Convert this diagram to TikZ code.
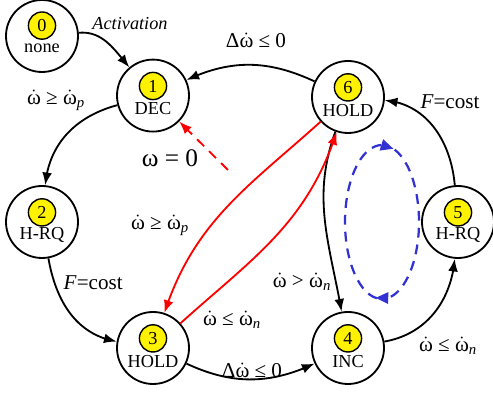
\documentclass[tikz,border=0pt]{standalone}
\usepackage{amsmath}
\usepackage{fontspec}
\setmainfont{Liberation Serif}
\usetikzlibrary{arrows.meta,positioning,bending}
\newcommand{\wdt}{\dot{\text{ω}}}

\begin{document}
\begin{tikzpicture}[
  font=\fontsize{13}{15}\selectfont,
  state/.style={circle, draw=black, line width=1.3pt, fill=white,
    minimum size=1.8cm, inner sep=0pt},
  num/.style={circle, draw=black, line width=1pt, fill=yellow,
    minimum size=0.68cm, inner sep=0pt},
  txt/.style={inner sep=0pt},
  lbl/.style={font=\fontsize{15}{18}\selectfont},
  arr/.style={-{Latex[length=9pt,width=7pt]}, line width=1.3pt},
  redarr/.style={arr, red},
  loop/.style={-{Triangle[length=9pt,width=8pt,flex]}, line width=1.6pt,
    draw={rgb,255:red,50;green,50;blue,210}, dash pattern=on 7pt off 5pt}
]
\useasboundingbox (0,0) rectangle (12.325,10);

% states
\node[state] (s0) at (1.05,9.1) {};
\node[num] (n0) at ([yshift=0.26cm]s0.center) {0};
\node[txt] (t0) at ([yshift=-0.3cm]s0.center) {none};
\node[state] (s1) at (3.825,7.61) {};
\node[num] (n1) at ([yshift=0.24cm]s1.center) {1};
\node[txt] (t1) at ([yshift=-0.33cm]s1.center) {DEC};
\node[state] (s2) at (1.05,4.45) {};
\node[num] (n2) at ([yshift=0.24cm]s2.center) {2};
\node[txt] (t2) at ([yshift=-0.33cm]s2.center) {H-RQ};
\node[state] (s3) at (3.825,1.3) {};
\node[num] (n3) at ([yshift=0.24cm]s3.center) {3};
\node[txt] (t3) at ([yshift=-0.33cm]s3.center) {HOLD};
\node[state] (s4) at (8.7,1.3) {};
\node[num] (n4) at ([yshift=0.24cm]s4.center) {4};
\node[txt] (t4) at ([yshift=-0.33cm]s4.center) {INC};
\node[state] (s5) at (11.45,4.45) {};
\node[num] (n5) at ([yshift=0.24cm]s5.center) {5};
\node[txt] (t5) at ([yshift=-0.33cm]s5.center) {H-RQ};
\node[state] (s6) at (8.7,7.575) {};
\node[num] (n6) at ([yshift=0.24cm]s6.center) {6};
\node[txt] (t6) at ([yshift=-0.33cm]s6.center) {HOLD};

% transitions
\draw[arr] (s0) to[out=5, in=130] (s1);
\draw[arr] (s6) to[out=155, in=25] (s1);
\draw[arr] (s1) to[out=195, in=85] (s2);
\draw[arr] (s2) to[out=-80, in=170] (s3);
\draw[arr] (s3) to[out=-25, in=-155] (s4);
\draw[arr] (s4) to[out=10, in=-95] (s5);
\draw[arr] (s5) to[out=95, in=-5] (s6);
\draw[arr] (s6) to[out=-110, in=100] (s4);
\draw[redarr] (s6) to[out=222, in=72] (s3);
\draw[redarr] (s3) to[out=42, in=-108] (s6);

\coordinate (reset) at (5.7,5.75);
\draw[redarr, dash pattern=on 7pt off 5pt] (reset) -- (s1);

% oscillation loop
\coordinate (osc) at (9.55,4.45);
\draw[loop] ([shift={(262:0.925cm and 1.925cm)}]osc)
  arc[start angle=262, end angle=72, x radius=0.925cm, y radius=1.925cm];
\draw[loop] ([shift={(70:0.925cm and 1.925cm)}]osc)
  arc[start angle=70, end angle=-100, x radius=0.925cm, y radius=1.925cm];

% labels
\node[font=\fontsize{13}{15}\selectfont\itshape] (l01) at (3.25,9.42) {Activation};
\node[lbl] (l61) at (6.4,9.0) {Δ$\wdt$ ≤ 0};
\node[lbl] (l12) at (1.4,7.5) {$\wdt$ ≥ $\wdt_{\textit{p}}$};
\node[lbl, font=\fontsize{18}{21}\selectfont] (lr1) at (4.25,6.05) {ω = 0};
\node[lbl] (l23) at (2.33,2.93) {\textit{F}=cost};
\node[lbl] (l63) at (4.0,4.37) {$\wdt$ ≥ $\wdt_{\textit{p}}$};
\node[lbl] (l36) at (5.8,2.0) {$\wdt$ ≤ $\wdt_{\textit{n}}$};
\node[lbl] (l34) at (6.3,0.75) {Δ$\wdt$ ≤ 0};
\node[lbl] (l45) at (11.2,1.35) {$\wdt$ ≤ $\wdt_{\textit{n}}$};
\node[lbl] (l64) at (7.55,2.95) {$\wdt$ > $\wdt_{\textit{n}}$};
\node[lbl] (l56) at (11.25,7.45) {\textit{F}=cost};
\end{tikzpicture}
\end{document}
